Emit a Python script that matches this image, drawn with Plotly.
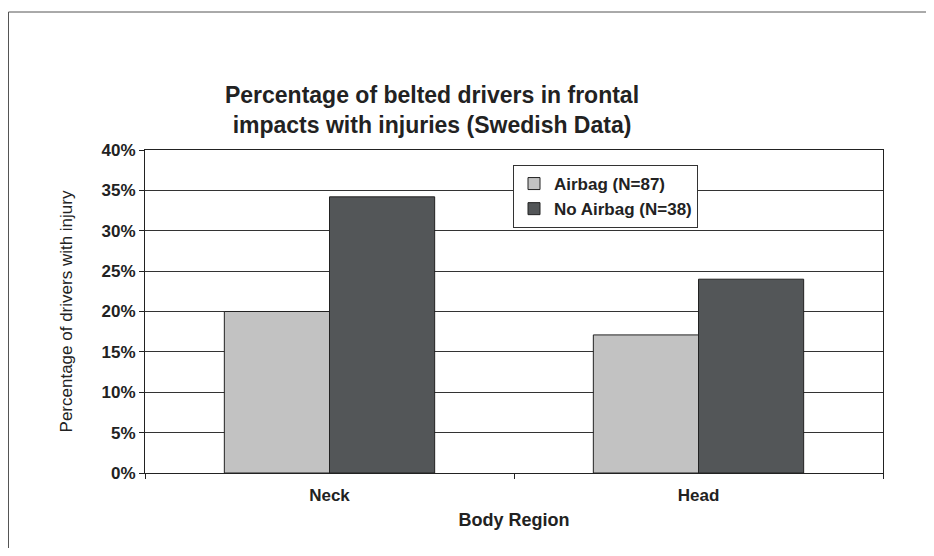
import plotly.graph_objects as go

categories = ["Neck", "Head"]
airbag = [20.0, 17.1]
no_airbag = [34.2, 24.0]
series_names = ["Airbag (N=87)", "No Airbag (N=38)"]
y_ticks = [0, 5, 10, 15, 20, 25, 30, 35, 40]
y_tick_labels = [f"{v}%" for v in y_ticks]

FONT = "Arial, Liberation Sans, sans-serif"
INK = "#222222"

# page has an 8px body margin, so the figure is sized / offset to compensate
W, H = 918, 540
L, T = 137, 142
PR, PB = 875, 465  # plot right / bottom in figure coords
PW, PH = PR - L, PB - T

fig = go.Figure()
fig.add_trace(go.Bar(x=categories, y=airbag, name=series_names[0],
                     marker=dict(color="#c2c2c2", line=dict(color=INK, width=1))))
fig.add_trace(go.Bar(x=categories, y=no_airbag, name=series_names[1],
                     marker=dict(color="#535658", line=dict(color=INK, width=1))))

fig.update_layout(
    width=W, height=H,
    margin=dict(l=L, r=W - PR, t=T, b=H - PB),
    paper_bgcolor="white", plot_bgcolor="white",
    barmode="group", bargap=0.43, bargroupgap=0,
    font=dict(family=FONT, color=INK),
    title=dict(text="<b>Percentage of belted drivers in frontal<br>impacts with injuries (Swedish Data)</b>",
               x=(432 - 8) / W, xanchor="center", xref="container",
               y=1 - 95 / H, yanchor="top", yref="container",
               font=dict(size=23, family=FONT, color=INK)),
    legend=dict(x=(513 - 145) / 738, y=1 - (165 - 150) / 323, xanchor="left", yanchor="top",
                bgcolor="white", bordercolor="#333333", borderwidth=1,
                font=dict(size=17, family=FONT, color=INK, weight="bold"),
                tracegroupgap=0, itemwidth=30),
    showlegend=True,
)
fig.update_xaxes(
    showline=True, linecolor=INK, linewidth=1, mirror=True,
    ticks="outside", ticklen=5, tickcolor=INK, tickson="boundaries",
    tickfont=dict(size=17, family=FONT, color=INK),
    tickprefix="<b>", ticksuffix="</b>", ticklabelstandoff=7,
    title=dict(text="<b>Body Region</b>", font=dict(size=18, family=FONT, color=INK), standoff=8),
)
fig.update_yaxes(
    range=[0, 40], tickvals=y_ticks, ticktext=[f"<b>{t}</b>" for t in y_tick_labels],
    showline=True, linecolor=INK, linewidth=1, mirror=True,
    ticks="outside", ticklen=5, tickcolor=INK,
    showgrid=True, gridcolor="#333333", gridwidth=1, zeroline=False,
    tickfont=dict(size=17, family=FONT, color=INK),
    title=dict(text="Percentage of drivers with injury", font=dict(size=17, family=FONT, color=INK), standoff=24),
)
fig.add_shape(type="rect", xref="paper", yref="paper",
              x0=(0.5 - L) / PW, x1=(W + 40 - L) / PW,
              y0=-1.0, y1=1 + (T - 4) / PH,
              line=dict(color="#555555", width=1), layer="below")

fig.write_html("out.html")
